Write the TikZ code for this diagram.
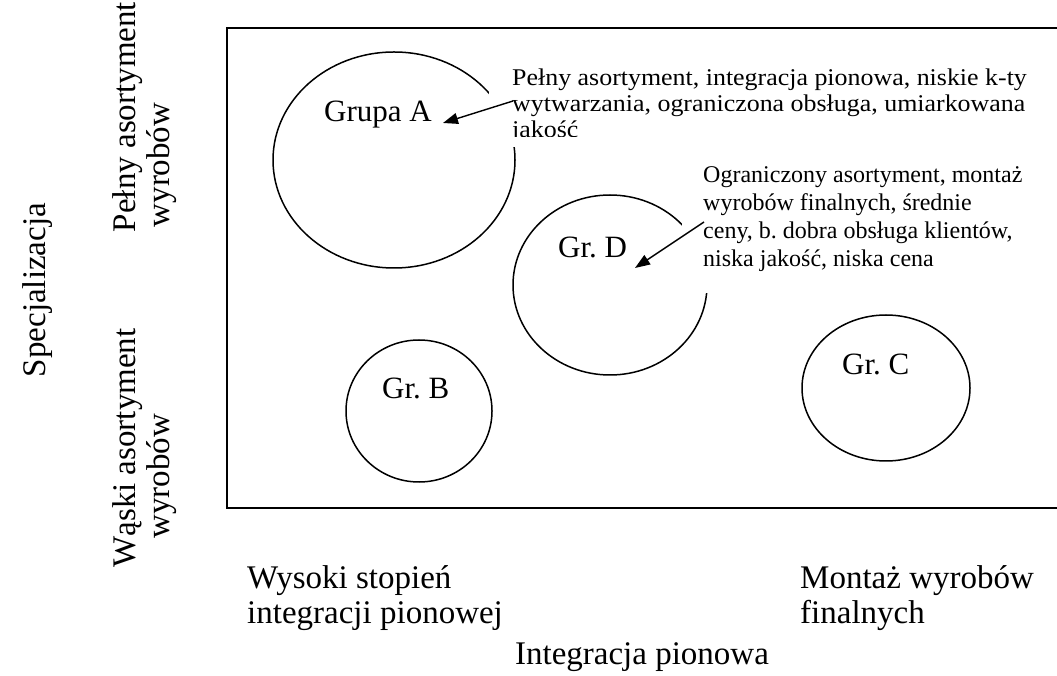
\documentclass[tikz,border=0pt]{standalone}
\usepackage{fontspec}
\setmainfont{Liberation Serif}
\newfontfamily\widefont{Liberation Serif}[FakeStretch=1.08]
\usetikzlibrary{arrows.meta}

\begin{document}
\frenchspacing
\begin{tikzpicture}[x=1pt,y=1pt,
  blob/.style={draw, line width=1.5pt},
  grouplabel/.style={anchor=base west, inner sep=0pt, font=\fontsize{31}{36}\selectfont},
  note/.style={anchor=base west, inner sep=0pt, align=left},
  axislabel/.style={inner sep=0pt, font=\fontsize{33}{35}\selectfont},
  pointer/.style={-{Triangle[length=15pt,width=11pt]}, line width=1.4pt},
  cover/.style={fill=white, draw=none, inner sep=0pt}]
\useasboundingbox (0,0) rectangle (1057,675);

% frame of the map, open towards the right
\draw[line width=2pt] (1062,647) -- (227,647) -- (227,167) -- (1062,167);

% strategic groups
\draw[blob] (394,515) ellipse [x radius=121, y radius=108];
\draw[blob] (610,390) ellipse [x radius=97, y radius=90];
\draw[blob] (419,264) ellipse [x radius=73, y radius=71];
\draw[blob] (886,287) ellipse [x radius=84, y radius=73];

% opaque text boxes of the descriptions
\node[cover, anchor=south west, minimum width=568, minimum height=89] (boxA) at (489,528) {};
\node[cover, anchor=south west, minimum width=375, minimum height=138] (boxD) at (682,382) {};

% multi-line nodes are placed by the baseline of their last line
\begin{scope}
  \clip (489,538) rectangle (1057,675);
  \node[note, font=\widefont\fontsize{24}{26}\selectfont] (noteA) at (512,537)
    {Pełny asortyment, integracja pionowa, niskie k-ty\\wytwarzania, ograniczona obsługa, umiarkowana\\jakość};
\end{scope}
\node[note, font=\fontsize{24}{28}\selectfont] (noteD) at (703,408)
  {Ograniczony asortyment, montaż\\wyrobów finalnych, średnie\\ceny, b. dobra obsługa klientów,\\niska jakość, niska cena};

% group names
\node[grouplabel] (labA) at (324,553) {Grupa A};
\node[grouplabel] (labD) at (558,417) {Gr. D};
\node[grouplabel] (labB) at (382,276) {Gr. B};
\node[grouplabel] (labC) at (842,300) {Gr. C};

% pointers from the descriptions to the groups
\coordinate (tailA) at (513,574);
\coordinate (tipA) at (443,552);
\coordinate (tailD) at (704,453);
\coordinate (tipD) at (635,407);
\draw[pointer] (tailA) -- (tipA);
\draw[pointer] (tailD) -- (tipD);

% axis descriptions
\node[axislabel, anchor=base west, align=left] (xlow) at (247,52) {Wysoki stopień\\integracji pionowej};
\node[axislabel, anchor=base west, align=left] (xhigh) at (800,52) {Montaż wyrobów\\finalnych};
\node[axislabel] (xaxis) at (642,18) {Integracja pionowa};

\node[axislabel, rotate=90] (yaxis) at (38,385) {Specjalizacja};
\node[axislabel, rotate=90] (yhigh) at (128,558) {Pełny asortyment};
\node[axislabel, rotate=90] (yhighb) at (162,510) {wyrobów};
\node[axislabel, rotate=90] (ylow) at (128,227) {Wąski asortyment};
\node[axislabel, rotate=90] (ylowb) at (162,199) {wyrobów};
\end{tikzpicture}
\end{document}
